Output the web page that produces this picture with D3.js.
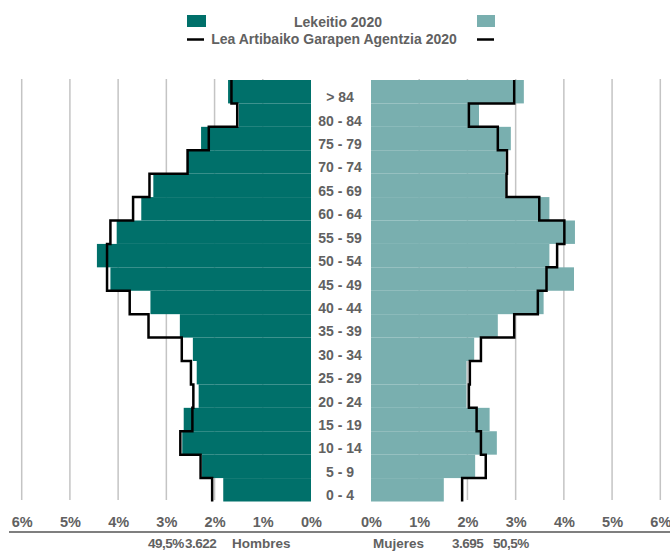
<!DOCTYPE html>
<html>
<head>
<meta charset="utf-8">
<script src="https://cdn.jsdelivr.net/npm/d3@7"></script>
<style>
  body { margin: 0; background: #fff; }
  text { font-family: "Liberation Sans", Arial, sans-serif; font-weight: bold; fill: #616161; }
</style>
</head>
<body>
<div id="chart"></div>
<script>
const ages = ['> 84', '80 - 84', '75 - 79', '70 - 74', '65 - 69', '60 - 64', '55 - 59', '50 - 54', '45 - 49',
  '40 - 44', '35 - 39', '30 - 34', '25 - 29', '20 - 24', '15 - 19', '10 - 14', '5 - 9', '0 - 4'];
// Lekeitio 2020 (% of total population)
const hombres = [1.72, 1.50, 2.28, 2.56, 3.27, 3.52, 4.03, 4.44, 4.16, 3.33, 2.72, 2.45, 2.37, 2.33, 2.64, 2.67, 2.26, 1.82];
const mujeres = [3.17, 2.24, 2.90, 2.79, 2.79, 3.70, 4.23, 3.70, 4.21, 3.58, 2.63, 2.14, 1.98, 1.98, 2.46, 2.61, 2.16, 1.51];
// Lea Artibaiko Garapen Agentzia 2020
const hombresRef = [1.65, 1.53, 2.12, 2.56, 3.35, 3.69, 4.16, 4.23, 4.23, 3.76, 3.37, 2.68, 2.49, 2.44, 2.46, 2.71, 2.29, 2.05];
const mujeresRef = [2.97, 2.03, 2.63, 2.82, 2.81, 3.49, 4.01, 3.86, 3.64, 3.46, 2.97, 2.28, 2.05, 2.03, 2.19, 2.28, 2.38, 1.89];
const ticks = [0, 1, 2, 3, 4, 5, 6];
const totals = { hombresPct: '49,5%', hombresN: '3.622', mujeresN: '3.695', mujeresPct: '50,5%' };

const width = 670, height = 555;
const dark = '#00706a', light = '#79afaf';

const svg = d3.select('#chart').append('svg')
  .attr('width', width).attr('height', height);

const y = d3.scaleBand().domain(ages).range([80, 501.5]).padding(0);
const xL = d3.scaleLinear().domain([0, 6]).range([311, 21.7]);
const xR = d3.scaleLinear().domain([0, 6]).range([371, 660.3]);

// gridlines
[xL, xR].forEach(x => {
  svg.append('g').selectAll('line')
    .data(ticks.filter(t => t > 0))
    .join('line')
      .attr('x1', d => x(d)).attr('x2', d => x(d))
      .attr('y1', 79).attr('y2', 500)
      .attr('stroke', '#c4c4c4').attr('stroke-width', 1.5);
});

// bars
svg.append('g').attr('fill', dark)
  .selectAll('rect').data(hombres).join('rect')
    .attr('x', d => xL(d))
    .attr('y', (d, i) => y(ages[i]))
    .attr('width', d => xL(0) - xL(d))
    .attr('height', y.bandwidth());

svg.append('g').attr('fill', light)
  .selectAll('rect').data(mujeres).join('rect')
    .attr('x', xR(0))
    .attr('y', (d, i) => y(ages[i]))
    .attr('width', d => xR(d) - xR(0))
    .attr('height', y.bandwidth());

// reference step lines
function stepPoints(vals, x) {
  const pts = [];
  vals.forEach((v, i) => {
    pts.push([x(v), y(ages[i])]);
    pts.push([x(v), y(ages[i]) + y.bandwidth()]);
  });
  return pts;
}
const line = d3.line();
[[hombresRef, xL], [mujeresRef, xR]].forEach(([vals, x]) => {
  svg.append('path')
    .attr('d', line(stepPoints(vals, x)))
    .attr('fill', 'none')
    .attr('stroke', '#000')
    .attr('stroke-width', 2.5);
});

// age labels
svg.append('g').selectAll('text').data(ages).join('text')
  .attr('x', 340)
  .attr('y', d => y(d) + y.bandwidth() / 2 + 10.5)
  .attr('text-anchor', 'middle')
  .attr('font-size', '14px')
  .text(d => d);

// percentage axes
function pctAxis(x) {
  return g => g.attr('transform', 'translate(0,517)')
    .call(d3.axisBottom(x).tickValues(ticks).tickFormat(d => d + '%').tickSize(0).tickPadding(0))
    .call(g => g.select('.domain').remove())
    .call(g => g.selectAll('text').attr('font-size', '14.5px').attr('font-family', null).attr('fill', null));
}
svg.append('g').call(pctAxis(xL));
svg.append('g').call(pctAxis(xR));

svg.append('line')
  .attr('x1', 9).attr('x2', 670).attr('y1', 532).attr('y2', 532)
  .attr('stroke', '#7f7f7f').attr('stroke-width', 2);

// totals
const bottom = [
  [148, totals.hombresPct], [185, totals.hombresN], [232, 'Hombres'],
  [373, 'Mujeres'], [452, totals.mujeresN], [493, totals.mujeresPct]
];
svg.append('g').selectAll('text').data(bottom).join('text')
  .attr('x', d => d[0]).attr('y', 548)
  .attr('font-size', '13.5px')
  .attr('letter-spacing', d => /\d/.test(d[1]) ? '-0.5px' : null)
  .text(d => d[1]);

// legend
svg.append('rect').attr('x', 187).attr('y', 15).attr('width', 19).attr('height', 12).attr('fill', dark);
svg.append('rect').attr('x', 477).attr('y', 15).attr('width', 18).attr('height', 12).attr('fill', light);
svg.append('line').attr('x1', 187).attr('x2', 204).attr('y1', 39.5).attr('y2', 39.5).attr('stroke', '#000').attr('stroke-width', 2.5);
svg.append('line').attr('x1', 477).attr('x2', 494).attr('y1', 39.5).attr('y2', 39.5).attr('stroke', '#000').attr('stroke-width', 2.5);
svg.append('text').attr('x', 338).attr('y', 26.5).attr('text-anchor', 'middle').attr('font-size', '14px').text('Lekeitio 2020');
svg.append('text').attr('x', 334).attr('y', 44).attr('text-anchor', 'middle').attr('font-size', '14px').text('Lea Artibaiko Garapen Agentzia 2020');
</script>
</body>
</html>
